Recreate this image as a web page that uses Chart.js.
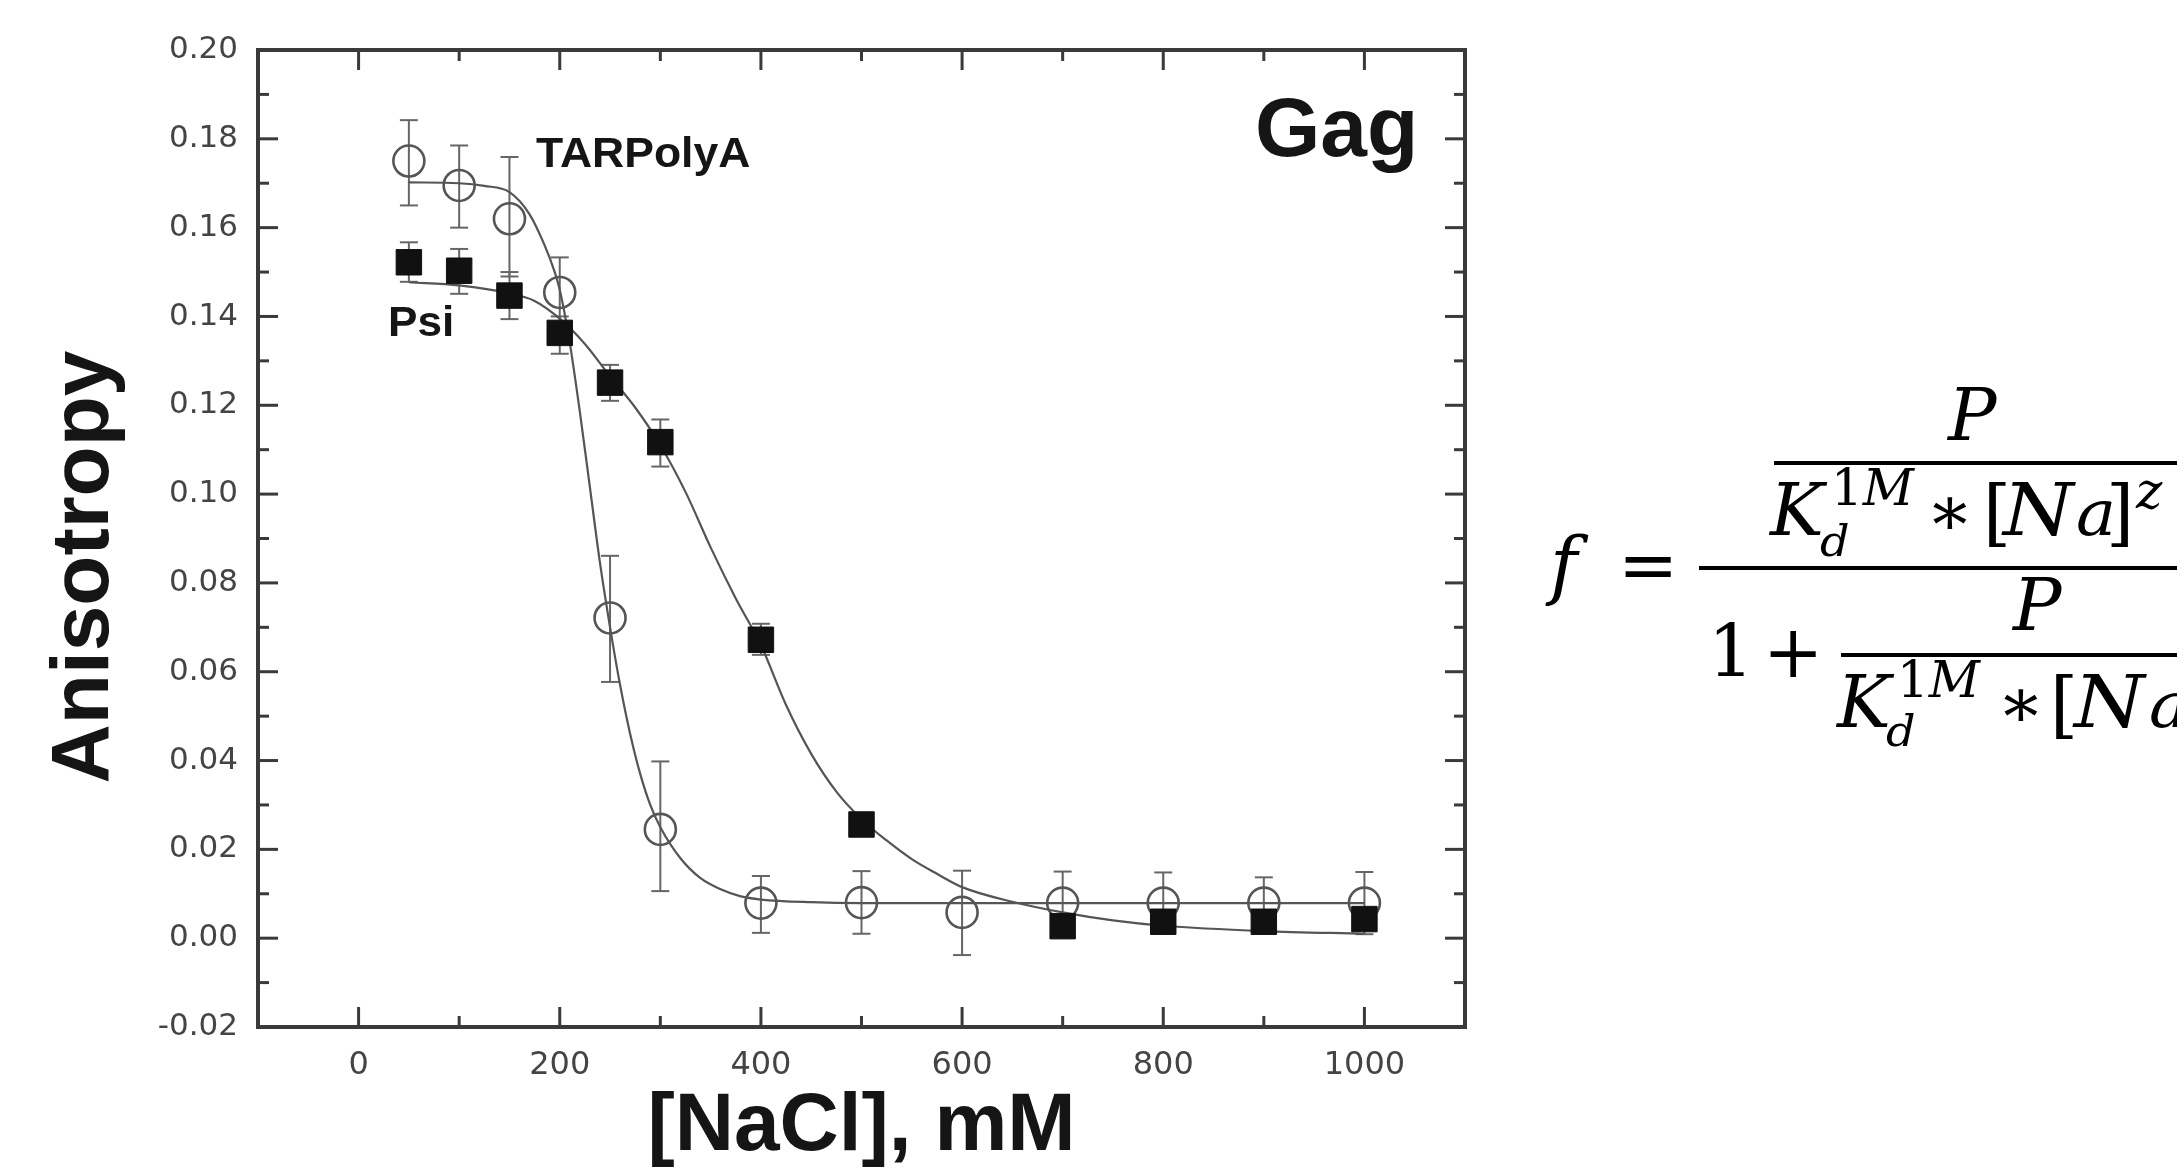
<!DOCTYPE html>
<html>
<head>
<meta charset="utf-8">
<script src="https://cdn.jsdelivr.net/npm/chart.js@4.4.1/dist/chart.umd.min.js"></script>
<style>
  html, body { margin: 0; padding: 0; background: #fff; }
  body { width: 2177px; height: 1174px; overflow: hidden; position: relative; }
  #c { position: absolute; left: 0; top: 0; width: 2177px; height: 1174px; }
  .lbl { position: absolute; white-space: nowrap; line-height: 1; font-family: "Liberation Sans", Arial, sans-serif; font-weight: bold; color: #151515; }
  .fx { position: absolute; white-space: nowrap; line-height: 1; font-family: "DejaVu Serif", serif; color: #000; transform-origin: 0 0; }
  .fx i { font-style: italic; }
  .bar { position: absolute; background: #000; height: 4px; }
</style>
</head>
<body>
<canvas id="c" width="2177" height="1174"></canvas>

<div class="lbl" id="ytitle" style="left:-220px; top:526px; width:600px; height:82px; font-size:82px; text-align:center; transform:rotate(-90deg); transform-origin:50% 50%;">Anisotropy</div>
<div class="lbl" style="left:1255px; top:85px; font-size:84px;">Gag</div>
<div class="lbl" style="left:536px; top:132px; font-size:42px; transform:scaleX(1.06); transform-origin:0 0;">TARPolyA</div>
<div class="lbl" style="left:388px; top:301px; font-size:42px; transform:scaleX(1.05); transform-origin:0 0;">Psi</div>

<div id="formula"></div>

<script>
// ---------------- data ----------------
const naclTAR = [50, 100, 150, 200, 250, 300, 400, 500, 600, 700, 800, 900, 1000];
const tarPolyA = [0.1750, 0.1695, 0.1620, 0.1454, 0.0721, 0.0245, 0.0079, 0.0080, 0.0058, 0.0079, 0.0079, 0.0079, 0.0079];
const tarErrHigh = [0.1842, 0.1785, 0.1759, 0.1533, 0.0861, 0.0398, 0.0140, 0.0151, 0.0152, 0.0150, 0.0148, 0.0137, 0.0149];
const tarErrLow  = [0.1650, 0.1600, 0.1490, 0.1375, 0.0577, 0.0106, 0.0012, 0.0010, -0.0038, 0.0008, 0.0010, 0.0021, 0.0009];

const naclPsi = [50, 100, 150, 200, 250, 300, 400, 500, 700, 800, 900, 1000];
const psi = [0.1522, 0.1503, 0.1447, 0.1363, 0.1251, 0.1117, 0.0672, 0.0256, 0.0027, 0.0037, 0.0037, 0.0043];
const psiErrHigh = [0.1567, 0.1552, 0.1500, 0.1400, 0.1291, 0.1168, 0.0708, 0.0278, 0.0037, 0.0047, 0.0047, 0.0053];
const psiErrLow  = [0.1478, 0.1451, 0.1394, 0.1316, 0.1210, 0.1062, 0.0638, 0.0236, 0.0017, 0.0027, 0.0027, 0.0033];

const tarFitNacl = [50, 100, 125, 150, 170, 185, 195, 200, 210, 220, 230, 240, 250, 260, 270, 280, 290, 300, 320, 340, 360, 380, 400, 450, 500, 600, 700, 800, 900, 1000];
const tarFit = [0.1702, 0.1700, 0.1694, 0.1680, 0.1630, 0.1560, 0.1500, 0.1460, 0.1340, 0.1185, 0.1015, 0.0845, 0.0700, 0.0570, 0.0460, 0.0370, 0.0300, 0.0250, 0.0180, 0.0135, 0.0110, 0.0094, 0.0087, 0.0081, 0.0079, 0.0079, 0.0079, 0.0079, 0.0079, 0.0079];

const psiFitNacl = [50, 100, 150, 175, 200, 225, 250, 275, 300, 325, 350, 375, 400, 425, 450, 475, 500, 525, 550, 575, 600, 650, 700, 750, 800, 900, 1000];
const psiFit = [0.1477, 0.1470, 0.1452, 0.1435, 0.1395, 0.1338, 0.1265, 0.1195, 0.1110, 0.1005, 0.0880, 0.0765, 0.0660, 0.0525, 0.0415, 0.0330, 0.0268, 0.0220, 0.0178, 0.0145, 0.0115, 0.0082, 0.0058, 0.0040, 0.0028, 0.0016, 0.0010];

const xTickValues = [0, 200, 400, 600, 800, 1000];
const xMinorValues = [100, 300, 500, 700, 900];
const yTickValues = [-0.02, 0.00, 0.02, 0.04, 0.06, 0.08, 0.10, 0.12, 0.14, 0.16, 0.18, 0.20];
const yMinorValues = [-0.01, 0.01, 0.03, 0.05, 0.07, 0.09, 0.11, 0.13, 0.15, 0.17, 0.19];

// ---------------- plugins ----------------
function seg(ctx, x1, y1, x2, y2) { ctx.beginPath(); ctx.moveTo(x1, y1); ctx.lineTo(x2, y2); ctx.stroke(); }

const errorBars = {
  id: 'errorBars',
  beforeDatasetsDraw(chart) {
    const { ctx, scales: { x, y } } = chart;
    ctx.save();
    ctx.strokeStyle = '#666';
    ctx.lineWidth = 2;
    const draw = (xs, hi, lo) => xs.forEach((v, i) => {
      const px = x.getPixelForValue(v);
      const ph = y.getPixelForValue(hi[i]);
      const pl = y.getPixelForValue(lo[i]);
      seg(ctx, px, ph, px, pl);
      seg(ctx, px - 9, ph, px + 9, ph);
      seg(ctx, px - 9, pl, px + 9, pl);
    });
    draw(naclTAR, tarErrHigh, tarErrLow);
    draw(naclPsi, psiErrHigh, psiErrLow);
    ctx.restore();
  }
};

const frameTicks = {
  id: 'frameTicks',
  afterDatasetsDraw(chart) {
    const { ctx, chartArea: a, scales: { x, y } } = chart;
    ctx.save();
    ctx.strokeStyle = '#3a3a3a';
    ctx.lineWidth = 3;
    const major = 20, minor = 11;
    xTickValues.forEach(v => { const p = x.getPixelForValue(v); seg(ctx, p, a.bottom, p, a.bottom - major); seg(ctx, p, a.top, p, a.top + major); });
    xMinorValues.forEach(v => { const p = x.getPixelForValue(v); seg(ctx, p, a.bottom, p, a.bottom - minor); seg(ctx, p, a.top, p, a.top + minor); });
    yTickValues.forEach(v => { const p = y.getPixelForValue(v); seg(ctx, a.left, p, a.left + major, p); seg(ctx, a.right, p, a.right - major, p); });
    yMinorValues.forEach(v => { const p = y.getPixelForValue(v); seg(ctx, a.left, p, a.left + minor, p); seg(ctx, a.right, p, a.right - minor, p); });
    ctx.lineWidth = 4;
    ctx.strokeRect(a.left, a.top, a.right - a.left, a.bottom - a.top);
    ctx.restore();
  }
};

const pts = (xs, ys) => xs.map((v, i) => ({ x: v, y: ys[i] }));

new Chart(document.getElementById('c'), {
  type: 'scatter',
  data: {
    datasets: [
      { label: 'TARPolyA fit', data: pts(tarFitNacl, tarFit), showLine: true, pointRadius: 0,
        borderColor: '#555', borderWidth: 2.2, cubicInterpolationMode: 'monotone', order: 4 },
      { label: 'Psi fit', data: pts(psiFitNacl, psiFit), showLine: true, pointRadius: 0,
        borderColor: '#555', borderWidth: 2.2, cubicInterpolationMode: 'monotone', order: 3 },
      { label: 'TARPolyA', data: pts(naclTAR, tarPolyA), showLine: false, pointStyle: 'circle',
        pointRadius: 15.5, pointBorderWidth: 2.6, pointBorderColor: '#555', pointBackgroundColor: 'rgba(0,0,0,0)', order: 2 },
      { label: 'Psi', data: pts(naclPsi, psi), showLine: false, pointStyle: 'rect',
        pointRadius: 18, pointBorderWidth: 1, pointBorderColor: '#111', pointBackgroundColor: '#111', order: 1 }
    ]
  },
  options: {
    responsive: false,
    animation: false,
    devicePixelRatio: 1,
    layout: { padding: { left: 0, top: 50, right: 712, bottom: 0 } },
    plugins: { legend: { display: false }, tooltip: { enabled: false } },
    scales: {
      x: {
        type: 'linear', min: -100, max: 1100,
        grid: { display: false, drawTicks: false },
        border: { display: false },
        afterBuildTicks: s => { s.ticks = xTickValues.map(v => ({ value: v })); },
        afterFit: s => { s.height = 147; },
        ticks: { padding: 19, autoSkip: false, maxRotation: 0, color: '#444',
                 font: { family: 'DejaVu Sans', size: 32, lineHeight: 1.2 },
                 callback: v => String(v) },
        title: { display: true, text: '[NaCl], mM', color: '#151515',
                 font: { family: 'Liberation Sans', size: 82, weight: 'bold', lineHeight: 1 },
                 padding: { top: 0, bottom: 6 } }
      },
      y: {
        type: 'linear', min: -0.02, max: 0.20,
        grid: { display: false, drawTicks: false },
        border: { display: false },
        afterBuildTicks: s => { s.ticks = yTickValues.map(v => ({ value: v })); },
        afterFit: s => { s.width = 258; },
        ticks: { padding: 20, autoSkip: false, color: '#444',
                 font: { family: 'DejaVu Sans', size: 31 },
                 callback: v => v.toFixed(2) }
      }
    }
  },
  plugins: [errorBars, frameTicks]
});

// ---------------- formula (text) ----------------
// [text, left, baseline, size, horizontal stretch]
const formulaGlyphs = [
  ['<i>f</i>', 1550, 590, 74, 1],
  ['=', 1618, 590, 72, 1],
  ['<i>P</i>', 1948, 440, 72, 1],
  ['<i>K</i>', 1770, 535, 72, 1],
  ['1<i>M</i>', 1831, 505, 50, 1],
  ['<i>d</i>', 1820, 557, 42, 1.1],
  ['\u2217', 1926, 535, 70, 1],
  ['[', 1983, 537, 72, 1],
  ['<i>N</i>', 2003, 535, 72, 1.12],
  ['<i>a</i>', 2076, 535, 64, 1.05],
  [']', 2106, 537, 72, 1],
  ['<i>z</i>', 2136, 508, 50, 1],
  ['<i>P</i>', 2013, 630, 72, 1],
  ['1', 1708, 677, 72, 1],
  ['+', 1763, 677, 72, 1],
  ['<i>K</i>', 1837, 727, 72, 1],
  ['1<i>M</i>', 1897, 697, 50, 1],
  ['<i>d</i>', 1886, 747, 42, 1.1],
  ['\u2217', 1997, 727, 70, 1],
  ['[', 2050, 729, 72, 1],
  ['<i>N</i>', 2074, 727, 72, 1.12],
  ['<i>a</i>', 2149, 727, 64, 1.05]
];
const fBox = document.getElementById('formula');
formulaGlyphs.forEach(([t, x, base, s, k]) => {
  const el = document.createElement('div');
  el.className = 'fx';
  el.innerHTML = t;
  el.style.left = x + 'px';
  el.style.top = (base - 0.846 * s) + 'px';
  el.style.fontSize = s + 'px';
  if (k !== 1) el.style.transform = 'scaleX(' + k + ')';
  fBox.appendChild(el);
});
[[1699, 566], [1774, 461], [1841, 653]].forEach(([x, y]) => {
  const b = document.createElement('div');
  b.className = 'bar';
  b.style.left = x + 'px';
  b.style.top = y + 'px';
  b.style.width = (2177 - x) + 'px';
  fBox.appendChild(b);
});
</script>
</body>
</html>
